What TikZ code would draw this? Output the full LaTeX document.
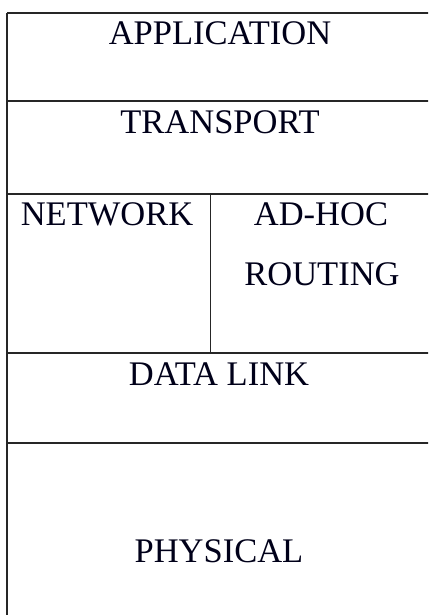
\documentclass[tikz,border=0pt]{standalone}
\usepackage{fontspec}
\setmainfont{Liberation Serif}
\usepackage{tikz}

\tikzset{
  layer/.style={anchor=base, inner sep=0pt, text=black!90!blue,
    font=\fontsize{34.5}{40}\selectfont},
  rule/.style={line width=1.2pt, draw=black!85}
}

\begin{document}
\begin{tikzpicture}[x=1pt, y=-1pt]
  \useasboundingbox (0,0) rectangle (428,615);
  \clip (0,0) rectangle (428,615);

  % Frame corners and cell borders
  \coordinate (tl) at (7,13);
  \coordinate (tr) at (440,13);
  \coordinate (bl) at (7,640);
  \coordinate (br) at (440,640);

  % Outer frame
  \draw[rule, line width=1.6pt] (bl) -- (tl);
  \draw[rule] (tl) -- (tr) -- (br) -- (bl);

  % Layer borders
  \draw[rule] (7,101) -- (440,101);
  \draw[rule] (7,194) -- (440,194);
  \draw[rule] (7,353) -- (440,353);
  \draw[rule] (7,443) -- (440,443);

  % Network / ad-hoc split
  \draw[line width=1pt, draw=black!85] (210,194) -- (210,354);

  % Layer names
  \node[layer] (app) at (220,45) {APPLICATION};
  \node[layer] (trans) at (220,133) {TRANSPORT};
  \node[layer] (net) at (107,225) {NETWORK};
  \node[layer] (adhoc) at (321,225) {AD-HOC};
  \node[layer] (routing) at (322,285) {ROUTING};
  \node[layer] (link) at (219,385) {DATA LINK};
  \node[layer] (phys) at (219,562) {PHYSICAL};
\end{tikzpicture}
\end{document}
